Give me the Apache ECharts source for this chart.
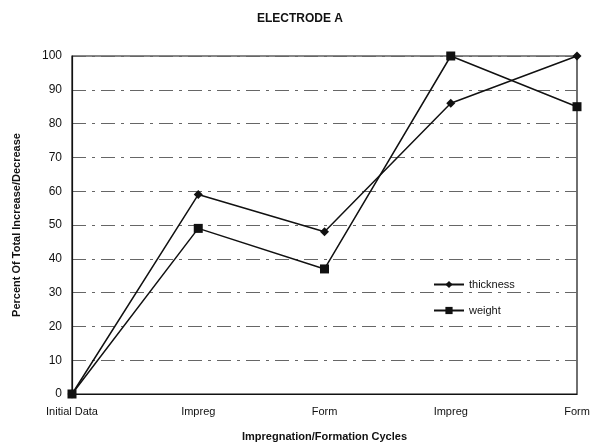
<!DOCTYPE html>
<html><head><meta charset="utf-8">
<script src="https://cdn.jsdelivr.net/npm/echarts@6/dist/echarts.min.js"></script>
<style>html,body{margin:0;padding:0;background:#fff}#c{width:600px;height:447px}</style>
</head><body><div id="c"></div>
<script>
const categories = ["Initial Data", "Impreg", "Form", "Impreg", "Form"];
const thickness = [0, 59, 48, 86, 100];
const weight = [0, 49, 37, 100, 85];
const yTicks = [0, 10, 20, 30, 40, 50, 60, 70, 80, 90, 100];

const font = "Liberation Sans, Arial, sans-serif";
const chart = echarts.init(document.getElementById('c'), null, {renderer: 'canvas'});
chart.setOption({
  backgroundColor: '#fff',
  animation: false,
  title: {text: 'ELECTRODE A', left: 'center', top: 8,
    textStyle: {fontFamily: font, fontSize: 12, fontWeight: 'bold', color: '#111'}},
  legend: {orient: 'vertical', left: 428, top: 274, itemWidth: 30, itemHeight: 9, itemGap: 15,
    textStyle: {fontFamily: font, fontSize: 11, color: '#111'},
    data: ['thickness', 'weight']},
  grid: {left: 72, right: 23, top: 56, bottom: 49, show: true, borderColor: '#111', borderWidth: 1.2},
  xAxis: {type: 'category', data: categories, boundaryGap: false,
    name: 'Impregnation/Formation Cycles', nameLocation: 'middle', nameGap: 37,
    nameTextStyle: {fontFamily: font, fontSize: 11, fontWeight: 'bold', color: '#111'},
    axisLine: {lineStyle: {color: '#111', width: 1.2}}, axisTick: {show: false},
    axisLabel: {fontFamily: font, fontSize: 11, color: '#111', margin: 12, interval: 0},
    splitLine: {show: false}},
  yAxis: {type: 'value', min: yTicks[0], max: yTicks[yTicks.length - 1], interval: 10,
    name: 'Percent Of Total Increase/Decrease', nameLocation: 'middle', nameGap: 50,
    nameTextStyle: {fontFamily: font, fontSize: 11, fontWeight: 'bold', color: '#111'},
    axisLine: {show: true, lineStyle: {color: '#111', width: 1.2}}, axisTick: {show: false},
    axisLabel: {fontFamily: font, fontSize: 12, color: '#111', margin: 10},
    splitLine: {show: true, lineStyle: {color: '#666', width: 1, type: [14, 6, 3, 6]}}},
  series: [
    {name: 'thickness', type: 'line', data: thickness, symbol: 'diamond', symbolSize: 9,
      lineStyle: {color: '#111', width: 1.5}, itemStyle: {color: '#111'}},
    {name: 'weight', type: 'line', data: weight, symbol: 'rect', symbolSize: 9,
      lineStyle: {color: '#111', width: 1.5}, itemStyle: {color: '#111'}}
  ]
});
</script></body></html>
